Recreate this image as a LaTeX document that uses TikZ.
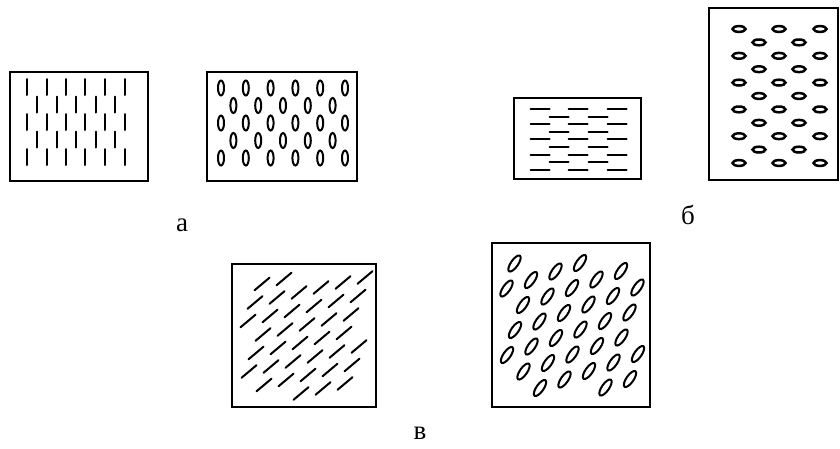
\documentclass[tikz,border=0pt]{standalone}
\usepackage{fontspec}
\setmainfont{Liberation Serif}
\usetikzlibrary{positioning}

\begin{document}
\begin{tikzpicture}[
    x=1pt, y=-1pt,
    panel/.style={draw=black, line width=2.3pt},
    vbar/.style={line width=2pt, line cap=round},
    grain/.style={draw=black, line width=2pt},
    lab/.style={font=\fontsize{27}{27}\selectfont, anchor=base, inner sep=0pt}
  ]
  \useasboundingbox (0,0) rectangle (840,448);

  % Panel a - left: vertical strokes
  \draw[panel] (10,72) rectangle (148,181);
  \foreach \y/\k in {87/0, 104.5/1, 122/0, 139.5/1, 157/0} {
    \ifnum\k=0
      \foreach \x in {27,47,66,85,105,125} \draw[vbar] (\x,\y-8) -- (\x,\y+8);
    \else
      \foreach \x in {37,57,76,96,115} \draw[vbar] (\x,\y-8) -- (\x,\y+8);
    \fi
  }

  % Panel a - right: upright grains
  \draw[panel] (207,72) rectangle (357,181);
  \foreach \y/\k in {88/0, 105.5/1, 123/0, 140.5/1, 158/0} {
    \ifnum\k=0
      \foreach \x in {221,245.8,270.6,295.4,320.2,345} \draw[grain] (\x,\y) ellipse[x radius=3, y radius=7.5];
    \else
      \foreach \x in {233.4,258.2,283,307.8,332.6} \draw[grain] (\x,\y) ellipse[x radius=3, y radius=7.5];
    \fi
  }

  % Panel b - left: horizontal strokes
  \draw[panel] (514,98) rectangle (641,179);
  \foreach \i in {0,...,8} {
    \pgfmathsetmacro\y{109+7.6*\i}
    \ifodd\i
      \foreach \x in {559,598} \draw[vbar] (\x-9.5,\y) -- (\x+9.5,\y);
    \else
      \foreach \x in {540,578,617} \draw[vbar] (\x-9.5,\y) -- (\x+9.5,\y);
    \fi
  }

  % Panel b - right: flat grains
  \draw[panel] (709,8) rectangle (838,180);
  \foreach \i in {0,...,10} {
    \pgfmathsetmacro\y{29+13.4*\i}
    \ifodd\i
      \foreach \x in {759,799} \draw[grain, line width=2.5pt] (\x,\y) ellipse[x radius=6.5, y radius=2.9];
    \else
      \foreach \x in {739,779,820} \draw[grain, line width=2.5pt] (\x,\y) ellipse[x radius=6.5, y radius=2.9];
    \fi
  }

  % Panel c - left: oblique strokes
  \draw[panel] (232,264) rectangle (376,407);
  \foreach \m in {-7,...,7} {
    \foreach \n in {-7,...,7} {
      \pgfmathsetmacro\ex{262+22*\m-7*\n}
      \pgfmathsetmacro\ey{284-5*\m+18.5*\n}
      \pgfmathtruncatemacro\ok{(\ex>246)&&(\ex<366)&&(\ey>275)&&(\ey<398)}
      \ifnum\ok=1
        \draw[vbar] (\ex-7.5,\ey+6.3) -- (\ex+7.5,\ey-6.3);
      \fi
    }
  }

  % Panel c - right: oblique grains
  \draw[panel] (492,243) rectangle (650,407);
  \foreach \m in {-8,...,8} {
    \foreach \n in {-8,...,8} {
      \pgfmathsetmacro\ex{515+24.5*\m-8*\n}
      \pgfmathsetmacro\ey{330-8.5*\m+25*\n}
      \pgfmathtruncatemacro\ok{(\ex>504)&&(\ex<641)&&(\ey>256)&&(\ey<396)}
      \ifnum\ok=1
        \draw[grain, rotate around={55:(\ex,\ey)}] (\ex,\ey) ellipse[x radius=9.5, y radius=3.6];
      \fi
    }
  }

  % Captions
  \node[lab] (capa) at (182,231) {а};
  \node[lab] (capb) at (688,224) {б};
  \node[lab] (capc) at (420,439) {в};
\end{tikzpicture}
\end{document}
